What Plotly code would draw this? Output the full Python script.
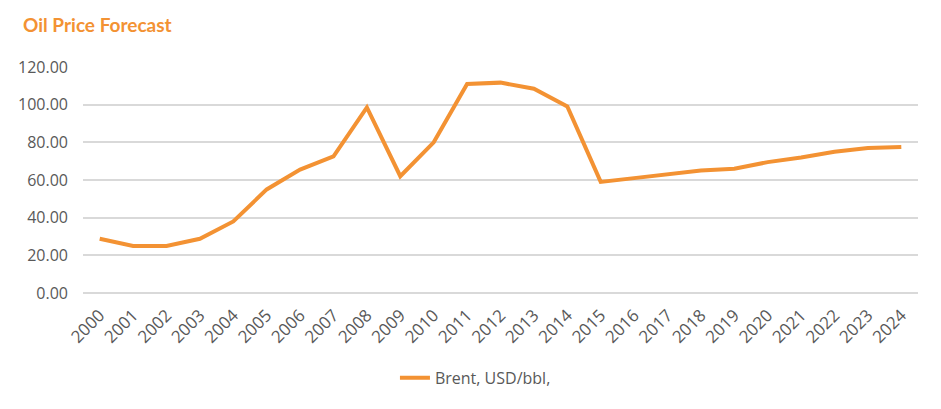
import plotly.graph_objects as go

years = [str(y) for y in range(2000, 2025)]
brent = [28.8, 25.0, 25.0, 28.8, 38.0, 55.0, 65.5, 72.5, 98.5, 62.0,
         80.0, 111.0, 111.7, 108.5, 99.0, 59.0, 61.0, 63.0, 65.0, 66.0,
         69.5, 72.0, 75.0, 77.0, 77.5]
y_ticks = [0, 20, 40, 60, 80, 100, 120]

orange = "#F39233"
grey_text = "#595959"

fig = go.Figure()
fig.add_trace(go.Scatter(
    x=years, y=brent, mode="lines", name="Brent, USD/bbl,",
    line=dict(color=orange, width=4),
))

# page body adds 8px margin, so the figure is 8px smaller and margins shifted
fig.update_layout(
    width=933, height=401,
    margin=dict(l=75, r=23, t=59, b=116, autoexpand=False),
    paper_bgcolor="white", plot_bgcolor="white",
    font=dict(family="Open Sans", color=grey_text, size=16),
    showlegend=True,
    legend=dict(orientation="h", x=0.47, xanchor="center", y=-0.375, yanchor="middle",
                font=dict(size=16, color=grey_text)),
    annotations=[dict(
        text="<b>Oil Price Forecast</b>", xref="paper", yref="paper",
        x=-62 / 835, y=1 + 42 / 226, xanchor="left", yanchor="middle",
        showarrow=False, font=dict(family="Lato", size=19, color=orange),
    )],
)
fig.update_xaxes(
    type="category", range=[-0.5, 24.5], tickangle=-45, automargin=False,
    showgrid=False, showline=False, ticks="", ticklabelstandoff=8,
    tickfont=dict(size=17, color=grey_text),
)
fig.update_yaxes(
    range=[0, 120], tickvals=y_ticks, tickformat=".2f", automargin=False,
    showgrid=True, gridcolor="#D9D9D9", gridwidth=1.5,
    zeroline=True, zerolinecolor="#D9D9D9", zerolinewidth=1.5,
    showline=False, ticks="", ticklabelstandoff=14,
    tickfont=dict(size=16, color=grey_text),
)

fig.write_html("out.html")
